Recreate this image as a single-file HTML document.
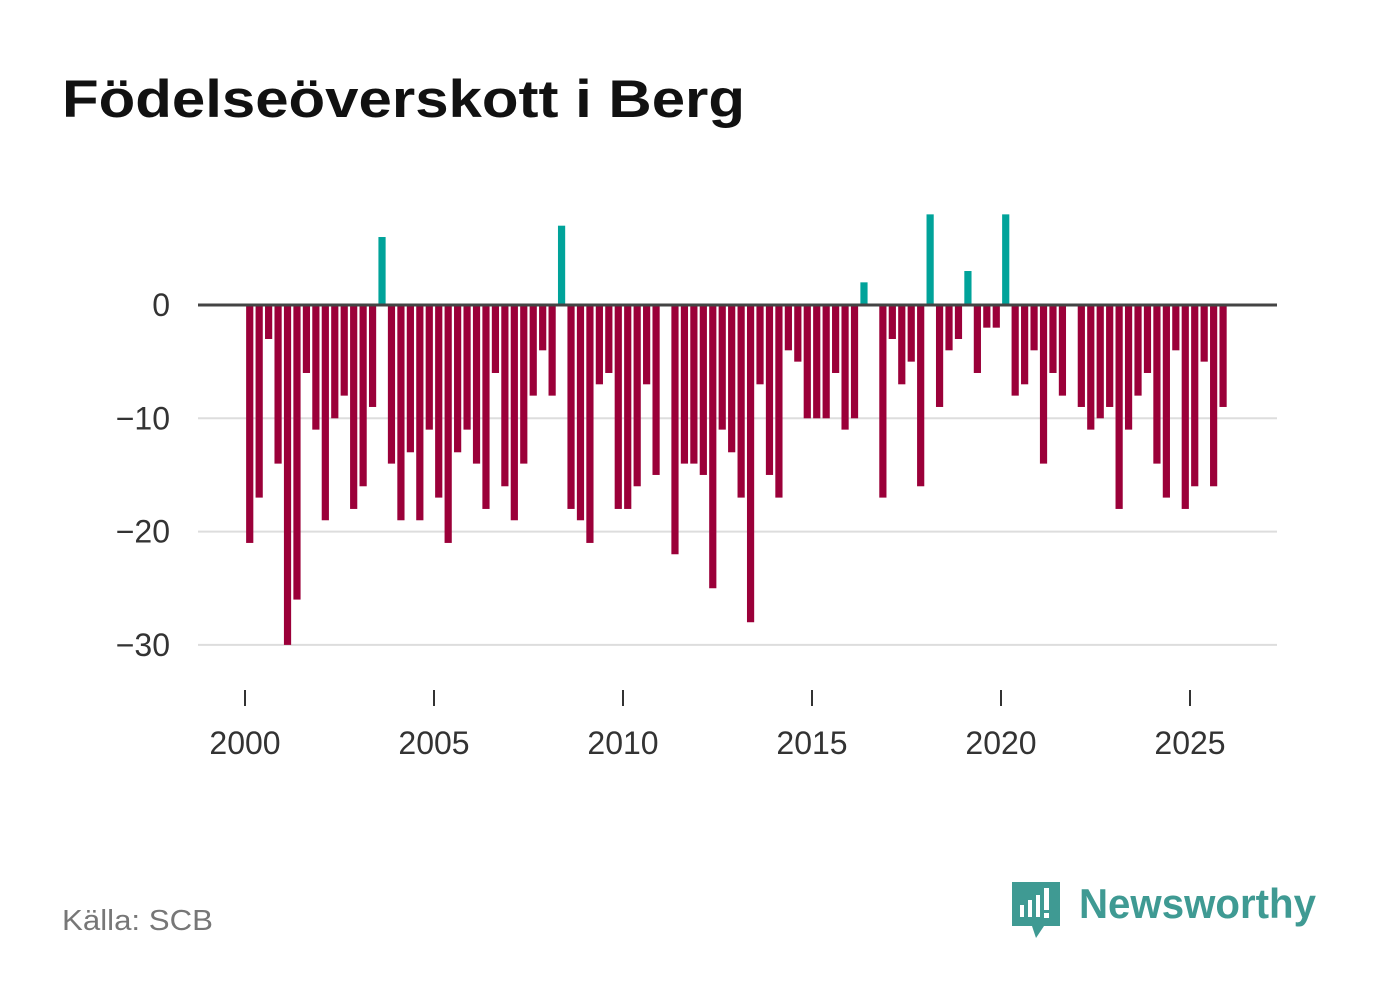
<!DOCTYPE html>
<html><head><meta charset="utf-8">
<style>
body{margin:0;background:#fff;width:1382px;height:999px;overflow:hidden;font-family:"Liberation Sans",sans-serif;}
</style></head>
<body>
<svg id="chart" width="1382" height="999" viewBox="0 0 1382 999">
<text x="62" y="117" font-size="53" font-weight="bold" fill="#111" textLength="683" lengthAdjust="spacingAndGlyphs">Födelseöverskott i Berg</text>
<g id="grid"></g>
<g id="bars"></g>
<g id="xaxis"></g>
<text x="62" y="930" font-size="29" fill="#777" textLength="151" lengthAdjust="spacingAndGlyphs">Källa: SCB</text>
<g>
<path d="M1012 882 h48 v44 h-16 l-8 12 l-4 -12 h-20 z" fill="#3f9a93"/>
<rect x="1020" y="905" width="4" height="12" fill="#fff"/>
<rect x="1028" y="900" width="4" height="17" fill="#fff"/>
<rect x="1036" y="895" width="4" height="22" fill="#fff"/>
<rect x="1044" y="888" width="5" height="22" fill="#fff"/>
<rect x="1044" y="913" width="5" height="5" fill="#fff"/>
<text x="1079" y="918" font-size="42" font-weight="bold" fill="#3f9a93" textLength="237" lengthAdjust="spacingAndGlyphs">Newsworthy</text>
</g>
</svg>
<script>
const values=[-21,-17,-3,-14,-30,-26,-6,-11,-19,-10,-8,-18,-16,-9,6,-14,-19,-13,-19,-11,-17,-21,-13,-11,-14,-18,-6,-16,-19,-14,-8,-4,-8,7,-18,-19,-21,-7,-6,-18,-18,-16,-7,-15,0,-22,-14,-14,-15,-25,-11,-13,-17,-28,-7,-15,-17,-4,-5,-10,-10,-10,-6,-11,-10,2,0,-17,-3,-7,-5,-16,8,-9,-4,-3,3,-6,-2,-2,8,-8,-7,-4,-14,-6,-8,0,-9,-11,-10,-9,-18,-11,-8,-6,-14,-17,-4,-18,-16,-5,-16,-9];
const startYear=2000;
const yTicks=[0,-10,-20,-30];
const yTickLabels=["0","−10","−20","−30"];
const xTicks=[2000,2005,2010,2015,2020,2025];
const NS="http://www.w3.org/2000/svg";
function y(v){return 305-v*11.33;}
function x(t){return 245+(t-2000)*37.8;}
function mk(tag,attrs,parent){const e=document.createElementNS(NS,tag);for(const k in attrs)e.setAttribute(k,attrs[k]);parent.appendChild(e);return e;}
const grid=document.getElementById('grid'),bars=document.getElementById('bars'),xa=document.getElementById('xaxis');
yTicks.forEach((v,i)=>{
 if(v!==0){const l=mk('line',{x1:198,x2:1277,y1:y(v),y2:y(v),stroke:'#ddd','stroke-width':2},grid);
 
 }
 const t=mk('text',{x:170,y:y(v)+11,'font-size':32,fill:'#333','text-anchor':'end'},grid);
 t.textContent=yTickLabels[i];
 
 
});
values.forEach((v,i)=>{
 const cx=x(startYear+i*0.25+0.125);
 const top=Math.min(y(v),y(0)),h=Math.abs(y(v)-y(0));
 const r=mk('rect',{x:cx-3.6,y:top,width:7.2,height:h,fill:v>=0?'#00a39a':'#9b0039'},bars);
 
 
});
const z=mk('line',{x1:198,x2:1277,y1:y(0),y2:y(0),stroke:'#444','stroke-width':3},bars);


xTicks.forEach(t=>{
 const l=mk('line',{x1:x(t),x2:x(t),y1:690,y2:706,stroke:'#333','stroke-width':2},xa);
 
 
 const tx=mk('text',{x:x(t),y:754,'font-size':32,fill:'#333','text-anchor':'middle'},xa);
 tx.textContent=t;
 
 
});
</script>
</body></html>
